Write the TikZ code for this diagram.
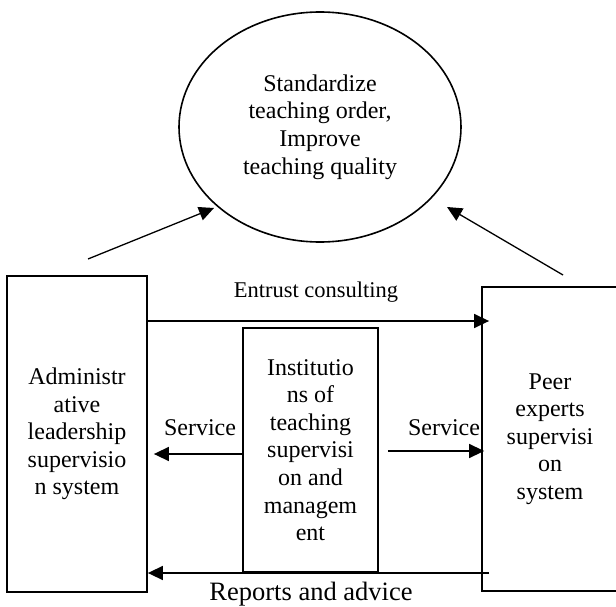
\documentclass[tikz,border=0pt]{standalone}
\usepackage{fontspec}
\setmainfont{Liberation Serif}
\usetikzlibrary{shapes.geometric,arrows.meta}
\begin{document}
\begin{tikzpicture}[x=1pt,y=-1pt,
  txt/.style={font=\fontsize{24}{27.6}\selectfont, align=center, inner sep=0pt},
  box/.style={txt, draw, line width=1.8pt},
  arr/.style={line width=1.5pt, -{Triangle[length=15pt,width=14pt]}},
  darr/.style={line width=1.3pt, -{Triangle[length=15pt,width=14pt]}}]
\useasboundingbox (0,0) rectangle (616,607);
\clip (0,0) rectangle (616,607);
\fill[white] (0,0) rectangle (616,607);
\node[txt, draw, ellipse, line width=1.6pt, minimum width=282, minimum height=230] (goal) at (320,127)
  {Standardize\\teaching order,\\Improve\\teaching quality};
\node[box, minimum width=140, minimum height=316] (adm) at (77,434)
  {Administr\\ative\\leadership\\supervisio\\n system};
\node[box, minimum width=136, minimum height=304] (peer) at (550,439)
  {Peer\\experts\\supervisi\\on\\system};
\node[box, minimum width=135, minimum height=244] (mid) at (310.5,450)
  {Institutio\\ns of\\teaching\\supervisi\\on and\\managem\\ent};
% diagonal arrows
\coordinate (la) at (88,259);
\coordinate (lt) at (214,208);
\coordinate (ra) at (563,275);
\coordinate (rt) at (447,207);
\draw[darr] (la) -- (lt);
\draw[darr] (ra) -- (rt);
% levels
\coordinate (ey) at (0,321);
\coordinate (sl) at (0,454);
\coordinate (sr) at (0,451);
\coordinate (ry) at (0,573);
\draw[arr] (adm.east |- ey) -- ([xshift=8]peer.west |- ey);
\draw[arr] (mid.west |- sl) -- ([xshift=6]adm.east |- sl);
\draw[arr] ([xshift=9]mid.east |- sr) -- ([xshift=3]peer.west |- sr);
\draw[arr] ([xshift=8]peer.west |- ry) -- (adm.east |- ry);
% labels
\node[txt, font=\fontsize{22.5}{26}\selectfont] (lent) at (316,292) {Entrust consulting};
\node[txt] (lsl) at (200,428) {Service};
\node[txt] (lsr) at (444,428) {Service};
\node[txt, font=\fontsize{26.5}{30}\selectfont] (lrep) at (311,594) {Reports and advice};
\end{tikzpicture}
\end{document}
